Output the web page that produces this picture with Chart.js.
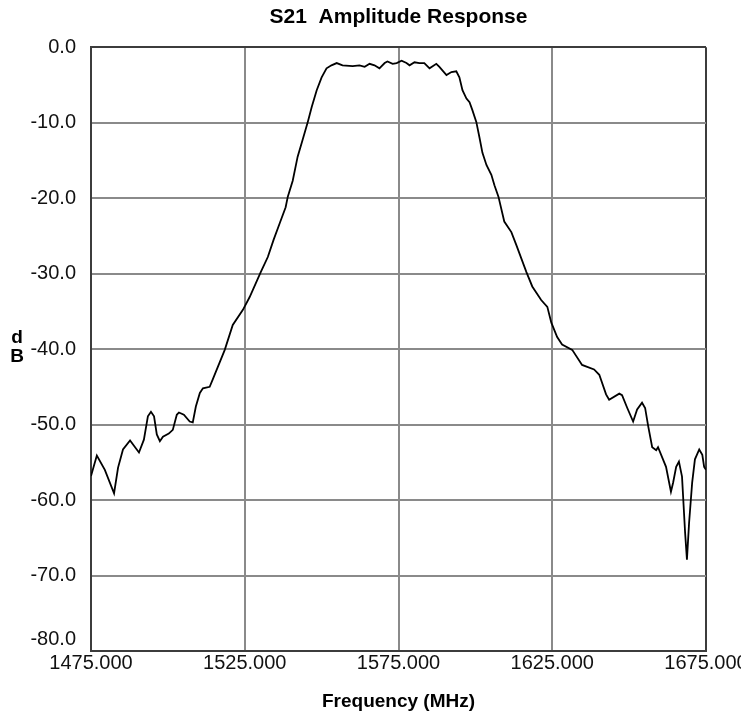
<!DOCTYPE html>
<html>
<head>
<meta charset="utf-8">
<title>S21 Amplitude Response</title>
<script src="https://cdn.jsdelivr.net/npm/chart.js@4.4.1/dist/chart.umd.min.js"></script>
<style>
  html, body { margin: 0; padding: 0; background: #fff; }
  #wrap { width: 741px; height: 717px; }
</style>
</head>
<body>
<div id="wrap"><canvas id="chart" width="741" height="717"></canvas></div>
<script>
// trace (MHz / dB)
const freqMHz = [
  1475.0, 1476.9, 1479.5, 1482.5, 1483.8, 1485.4, 1487.7, 1490.6, 1492.2, 1493.5,
  1494.5, 1495.5, 1496.4, 1497.4, 1498.4, 1500.3, 1501.6, 1502.9, 1503.6, 1505.2,
  1507.1, 1508.1, 1509.1, 1510.4, 1511.4, 1513.6, 1514.6, 1518.5, 1521.1, 1524.4,
  1526.6, 1530.2, 1532.5, 1534.4, 1536.4, 1538.3, 1539.0, 1540.6, 1542.2, 1543.8,
  1545.5, 1546.8, 1548.4, 1550.0, 1551.6, 1553.2, 1554.9, 1556.8, 1560.1, 1562.3,
  1564.0, 1565.6, 1567.2, 1568.8, 1570.5, 1571.4, 1573.1, 1574.4, 1576.0, 1577.6,
  1578.6, 1580.2, 1581.8, 1583.4, 1585.1, 1587.3, 1588.3, 1590.6, 1592.2, 1593.8,
  1594.8, 1595.8, 1597.1, 1598.1, 1599.0, 1600.3, 1601.3, 1602.3, 1603.6, 1605.2,
  1606.2, 1607.5, 1609.4, 1611.7, 1613.3, 1616.6, 1618.5, 1621.4, 1623.4, 1624.7,
  1626.6, 1628.2, 1631.5, 1634.7, 1638.6, 1640.3, 1642.5, 1643.5, 1646.8, 1647.7,
  1649.4, 1651.3, 1652.6, 1654.2, 1655.2, 1656.2, 1657.5, 1658.8, 1659.4, 1662.0,
  1663.6, 1664.3, 1665.3, 1666.2, 1667.2, 1668.2, 1668.8, 1669.5, 1670.5, 1671.4,
  1672.8, 1673.8, 1674.4, 1675.0
];
const s21dB = [
  -56.8, -54.1, -56.0, -59.1, -55.7, -53.3, -52.1, -53.7, -52.0, -48.9,
  -48.3, -48.9, -51.3, -52.2, -51.6, -51.2, -50.7, -48.7, -48.4, -48.7,
  -49.6, -49.7, -47.6, -45.8, -45.2, -45.0, -44.0, -40.1, -36.8, -34.8,
  -33.1, -29.8, -27.8, -25.5, -23.3, -21.2, -19.8, -17.7, -14.5, -12.3,
  -9.9, -7.9, -5.7, -4.0, -2.8, -2.4, -2.1, -2.4, -2.5, -2.4,
  -2.6, -2.2, -2.4, -2.8, -2.1, -1.9, -2.2, -2.1, -1.8, -2.1,
  -2.4, -2.0, -2.1, -2.1, -2.8, -2.2, -2.6, -3.7, -3.3, -3.2,
  -4.0, -5.7, -6.8, -7.3, -8.3, -9.9, -11.9, -14.0, -15.6, -16.9,
  -18.3, -19.8, -23.1, -24.5, -26.2, -29.8, -31.7, -33.5, -34.4, -36.5,
  -38.4, -39.4, -40.1, -42.1, -42.7, -43.4, -46.0, -46.7, -45.9, -46.1,
  -47.8, -49.6, -48.0, -47.1, -47.8, -50.2, -53.0, -53.4, -53.0, -55.6,
  -58.9, -57.7, -55.6, -54.9, -56.9, -64.3, -67.9, -63.0, -57.7, -54.6,
  -53.3, -54.0, -55.6, -56.0
];
const xTicks = [1475, 1525, 1575, 1625, 1675];
const yTicks = [0, -10, -20, -30, -40, -50, -60, -70, -80];

const FONT = "'Liberation Sans', Arial, sans-serif";
const GRID = '#8a8a8a';
const FRAME = '#3c3c3c';

// stacked "d" over "B" y axis label, title centred over the plot
const stackedLabel = {
  id: 'stackedLabel',
  afterLayout(chart) {
    if (chart.titleBlock) {
      chart.titleBlock.left = chart.chartArea.left;
      chart.titleBlock.right = chart.chartArea.right;
    }
  },
  afterDraw(chart) {
    const c = chart.ctx;
    c.save();
    c.fillStyle = '#000';
    c.font = 'bold 19px ' + FONT;
    c.textAlign = 'center';
    c.textBaseline = 'middle';
    c.fillText('d', 17, 338);
    c.fillText('B', 17, 357);
    c.restore();
  }
};

const points = freqMHz.map(function(f, i) { return { x: f, y: s21dB[i] }; });

const ctx = document.getElementById('chart').getContext('2d');
const chart = new Chart(ctx, {
  type: 'line',
  data: {
    datasets: [{
      label: 'S21',
      data: points,
      borderColor: '#000',
      borderWidth: 1.8,
      pointRadius: 0,
      tension: 0,
      fill: false
    }]
  },
  plugins: [stackedLabel],
  options: {
    responsive: false,
    animation: false,
    devicePixelRatio: 1,
    layout: { padding: { left: 0, right: 35, top: 0, bottom: 0 } },
    plugins: {
      legend: { display: false },
      tooltip: { enabled: false },
      title: {
        display: true,
        text: 'S21  Amplitude Response',
        color: '#000',
        font: { family: FONT, size: 21, weight: 'bold' },
        padding: { top: 5, bottom: 17 }
      }
    },
    scales: {
      x: {
        type: 'linear',
        min: 1475,
        max: 1675,
        afterBuildTicks: function(scale) {
          scale.ticks = xTicks.map(function(v) { return { value: v }; });
        },
        afterFit: function(scale) {
          scale.paddingLeft = 0;
          scale.paddingRight = 0;
          scale.height = 66;
        },
        ticks: {
          color: '#111',
          font: { family: FONT, size: 20 },
          padding: 0,
          maxRotation: 0,
          callback: function(value) { return value.toFixed(3); }
        },
        grid: {
          drawTicks: false,
          color: function(c) { return c.tick && c.tick.value === 1675 ? FRAME : GRID; },
          lineWidth: 2
        },
        border: { color: FRAME, width: 2 },
        title: {
          display: true,
          text: 'Frequency (MHz)',
          color: '#000',
          font: { family: FONT, size: 19, weight: 'bold' },
          padding: { top: 0, bottom: 4 }
        }
      },
      y: {
        type: 'linear',
        min: -80,
        max: 0,
        afterBuildTicks: function(scale) {
          scale.ticks = yTicks.map(function(v) { return { value: v }; });
        },
        afterFit: function(scale) {
          scale.width = 91;
        },
        ticks: {
          color: '#111',
          font: { family: FONT, size: 20 },
          padding: 15,
          callback: function(value) {
            // bottom label sits above its line, clear of the x labels
            if (value === -80) return ['-80.0', ''];
            return value.toFixed(1);
          }
        },
        grid: {
          drawTicks: false,
          color: function(c) { return c.tick && c.tick.value === 0 ? FRAME : GRID; },
          lineWidth: 2
        },
        border: { color: FRAME, width: 2 }
      }
    }
  }
});
</script>
</body>
</html>
